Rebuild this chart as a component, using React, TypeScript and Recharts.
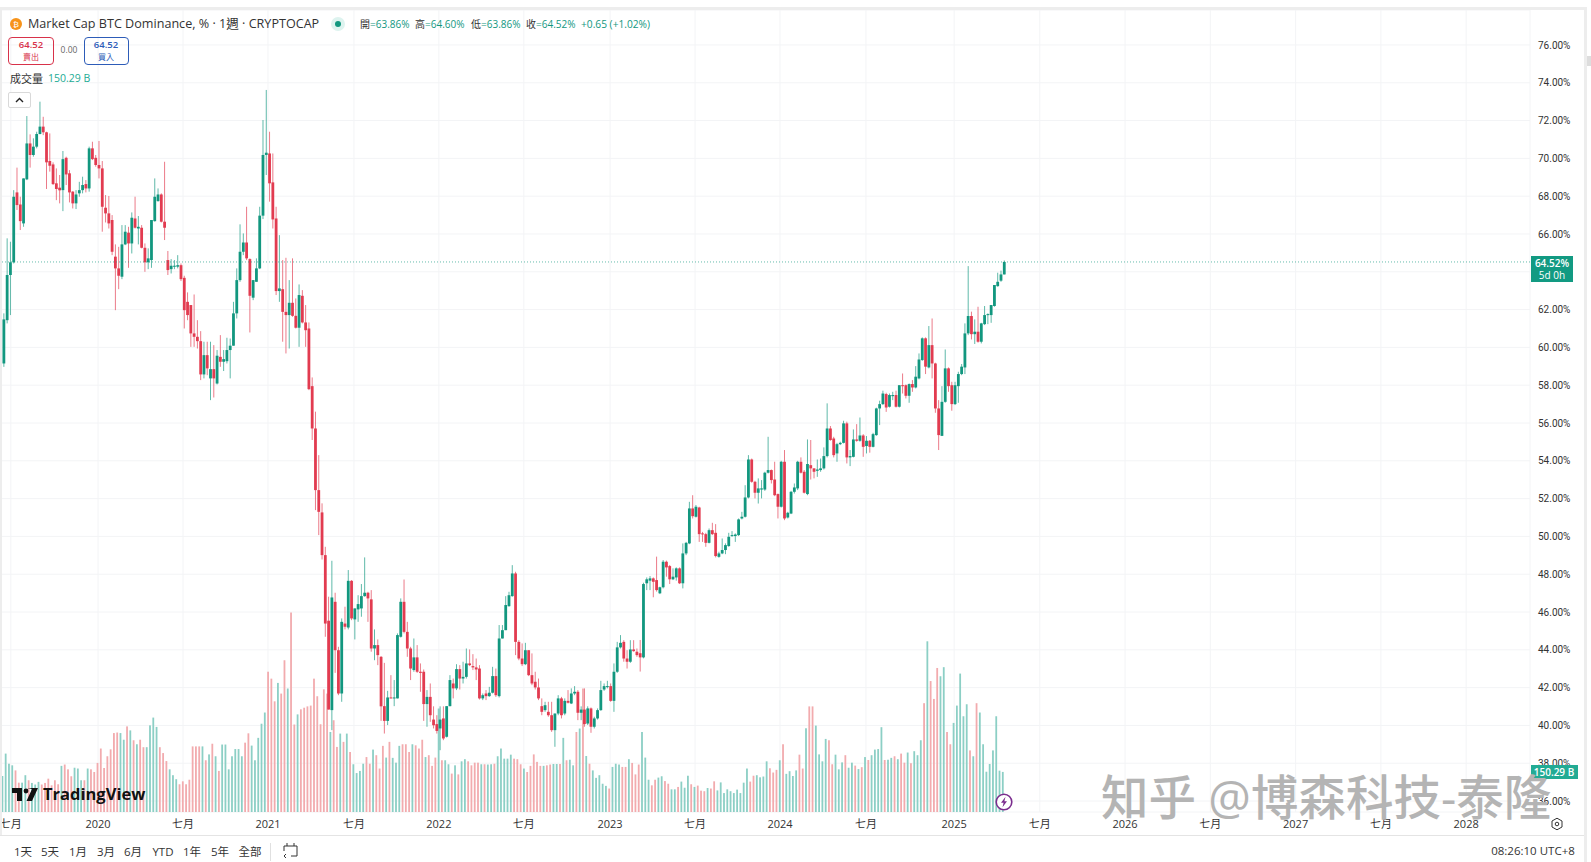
import { ComposedChart, Bar, XAxis, YAxis, CartesianGrid, ReferenceLine } from 'recharts'

const UP = '#12977F'
const DOWN = '#E23B50'
const FONT = '"Open Sans", "Noto Sans CJK TC", sans-serif'

// weekly candles, oldest first
const opens = [
  59.15,61.44,63.83,64.50,68.20,67.56,66.56,68.89,70.79,70.18,
  70.62,71.29,71.68,71.38,69.86,69.68,68.68,68.45,68.32,70.03,
  69.21,68.24,67.62,68.15,68.32,68.64,68.41,70.53,70.03,69.65,
  69.47,67.39,67.09,66.74,64.80,64.18,63.74,65.45,66.07,65.50,
  66.82,66.29,66.33,65.27,64.50,64.62,66.68,67.74,68.09,66.65,
  64.62,64.14,64.27,64.27,64.35,63.68,62.41,62.24,60.74,60.56,
  60.33,58.57,59.59,58.36,58.85,58.09,59.50,59.24,59.27,59.86,
  60.09,61.80,63.56,65.06,65.55,64.67,62.63,63.47,64.18,66.97,
  70.18,70.26,68.73,66.82,62.98,63.08,61.88,61.71,62.36,61.67,
  61.04,62.73,61.32,61.00,57.95,55.71,52.45,51.27,49.01,45.54,
  40.81,46.54,43.98,41.69,45.39,45.18,47.65,45.61,46.14,46.19,
  46.84,47.02,46.67,44.07,44.25,43.63,41.02,40.24,41.48,41.43,
  41.43,44.69,46.54,44.95,44.07,42.93,43.60,42.84,42.84,41.13,
  41.51,40.31,40.07,39.84,40.37,39.40,41.02,42.22,41.96,42.98,
  42.48,42.57,43.28,43.14,43.07,43.01,41.43,41.69,41.55,41.73,
  42.61,41.55,44.60,45.04,46.31,46.84,48.04,44.42,43.54,43.24,
  43.98,42.66,42.31,42.01,41.02,40.81,40.72,40.54,39.75,40.63,
  41.43,40.63,41.30,41.16,41.69,41.78,40.67,40.84,40.10,40.90,
  39.93,40.37,40.81,41.90,42.04,42.08,41.30,42.84,44.13,44.42,
  43.54,43.37,44.02,43.90,43.82,43.60,47.52,47.66,47.78,47.69,
  46.99,47.31,48.66,48.43,47.73,47.83,48.31,47.52,49.10,49.63,
  51.48,51.04,51.53,50.16,50.12,49.66,50.33,50.19,48.92,49.10,
  49.28,49.49,50.02,50.02,50.07,50.95,51.04,52.06,54.07,52.89,
  52.31,52.48,52.48,53.37,53.51,53.01,52.24,51.57,53.95,51.00,
  51.21,52.36,52.54,53.95,53.42,52.24,53.77,53.60,53.47,53.51,
  53.60,54.25,55.71,55.18,54.39,54.88,54.95,55.98,54.18,54.21,
  55.13,55.06,55.34,54.78,55.06,54.74,55.36,56.77,57.00,57.53,
  56.86,57.42,57.48,56.86,58.00,58.00,57.44,58.06,57.88,58.36,
  59.33,60.48,58.94,60.12,59.15,56.77,55.32,57.12,58.89,58.00,
  57.00,57.95,58.59,58.94,60.74,61.66,60.70,60.83,60.30,61.23,
  61.71,61.71,62.19,63.24,63.53,63.86,
]
const closes = [
  61.48,63.83,64.50,67.97,67.53,66.68,68.94,70.79,70.18,70.62,
  71.29,71.68,71.38,69.79,69.61,68.64,68.38,68.31,69.96,69.15,
  68.20,67.62,68.09,68.32,68.59,68.41,70.53,69.96,69.65,69.47,
  67.44,67.09,66.56,65.06,64.18,63.79,65.45,66.12,65.50,66.86,
  66.33,66.38,65.27,64.50,64.71,66.74,67.97,68.09,66.65,66.33,
  64.09,64.32,64.32,64.35,63.61,61.97,61.71,60.74,60.56,60.33,
  58.57,59.59,58.89,58.85,58.36,59.56,59.24,59.38,59.86,60.09,
  61.80,63.56,65.06,65.55,64.71,62.73,63.56,64.18,66.97,70.18,
  70.30,68.68,66.77,62.98,63.12,61.88,61.71,62.36,61.67,61.04,
  62.77,61.32,60.91,57.79,55.71,52.45,51.30,49.01,45.39,40.84,
  46.77,43.98,41.69,45.48,45.22,47.65,45.66,46.19,46.42,46.84,
  47.02,46.72,44.07,44.25,43.72,41.01,40.24,41.48,41.43,41.48,
  44.78,46.54,44.95,44.07,43.01,43.60,42.84,42.78,41.13,41.51,
  40.54,40.01,39.71,40.31,39.31,41.02,42.40,41.96,42.98,42.48,
  42.57,43.28,43.19,43.07,42.96,41.43,41.60,41.55,41.73,42.61,
  41.60,44.60,45.04,46.37,46.89,48.04,44.42,43.54,43.24,43.98,
  42.66,42.22,42.01,41.43,40.72,41.07,40.54,39.75,40.63,41.43,
  40.54,41.30,41.20,41.69,41.78,40.67,40.84,40.07,40.90,39.93,
  40.37,40.81,41.87,42.08,42.08,41.30,42.84,44.13,44.37,43.54,
  43.37,44.02,43.93,43.72,43.60,47.48,47.73,47.78,47.60,47.16,
  47.31,48.66,48.36,47.73,47.87,48.31,47.52,49.10,49.66,51.48,
  51.07,51.57,50.12,50.12,49.66,50.33,50.12,48.96,49.10,49.28,
  49.54,49.98,50.07,50.10,50.90,51.04,52.06,54.07,52.89,52.31,
  52.54,52.54,53.37,53.51,52.98,52.18,51.57,53.95,50.95,51.25,
  52.36,52.59,53.95,53.37,52.31,53.83,53.60,53.42,53.54,53.60,
  54.25,55.71,55.10,54.30,54.88,54.95,55.98,54.18,54.25,55.13,
  55.06,55.34,54.74,55.06,54.74,55.41,56.77,57.00,57.56,56.82,
  57.48,57.48,56.86,58.00,57.95,57.44,58.06,57.88,58.45,59.36,
  60.48,58.98,60.12,59.15,56.77,55.36,57.12,58.89,57.95,57.00,
  58.00,58.59,58.98,60.74,61.66,60.70,60.83,60.30,61.27,61.71,
  61.76,62.24,63.30,63.47,63.86,64.52,
]
const highs = [
  61.80,65.77,65.59,68.32,69.51,67.97,68.94,72.24,71.27,71.06,
  71.41,73.00,72.20,71.41,71.32,69.79,69.47,69.12,70.39,70.09,
  69.38,68.27,68.32,68.76,69.03,68.85,70.62,70.88,70.18,70.92,
  69.86,68.06,68.01,67.00,65.45,65.32,66.47,66.47,66.38,67.14,
  67.97,66.95,66.47,65.50,65.24,66.74,68.94,68.41,68.15,69.82,
  65.10,64.67,64.62,64.88,64.44,63.79,62.91,62.24,62.80,61.44,
  60.86,60.30,60.30,60.30,60.12,59.86,60.65,59.86,60.51,60.47,
  62.41,64.18,66.51,66.03,67.44,64.71,63.56,64.71,67.44,72.03,
  73.62,71.41,70.26,67.44,65.94,64.62,64.74,63.56,64.71,62.59,
  63.33,63.03,62.24,61.32,58.41,56.60,54.30,51.75,49.45,46.81,
  48.71,47.02,44.16,45.66,46.28,48.22,47.69,46.19,46.89,47.48,
  48.89,47.07,47.16,45.08,44.55,43.67,43.31,41.83,42.66,42.40,
  44.87,46.72,47.72,45.48,44.16,44.60,44.25,43.28,42.96,41.87,
  42.22,41.01,40.54,41.01,41.01,41.02,42.66,42.48,43.24,43.19,
  43.37,44.07,44.02,43.77,43.54,43.19,41.69,41.87,42.04,43.10,
  43.01,45.31,45.31,46.84,47.07,48.48,48.13,44.51,44.34,44.37,
  43.98,43.81,42.84,42.48,41.43,41.25,41.25,41.25,40.63,41.60,
  41.51,41.43,41.87,41.96,42.08,41.87,41.01,41.96,41.01,40.95,
  40.46,40.90,42.36,42.22,42.36,42.22,43.28,44.42,44.78,44.51,
  43.98,44.51,44.51,44.07,44.52,47.55,47.83,47.90,47.83,48.93,
  47.34,48.75,48.72,48.49,48.31,48.36,48.36,49.63,49.71,51.83,
  52.18,51.66,51.57,50.24,50.19,50.42,50.72,50.65,49.19,49.89,
  49.63,50.19,50.28,50.16,50.95,51.30,52.71,54.30,54.12,52.94,
  53.07,52.98,53.42,55.27,53.54,53.95,52.27,54.00,54.57,51.30,
  52.41,52.80,54.00,54.18,53.51,55.13,55.10,53.60,54.07,54.12,
  54.71,57.04,55.84,55.27,54.95,55.01,56.12,56.07,54.57,55.66,
  55.94,56.29,55.41,55.31,55.10,55.48,56.81,57.18,57.71,57.60,
  57.56,57.65,57.71,58.00,58.62,58.04,58.09,58.27,59.01,59.68,
  60.53,60.53,61.13,61.53,59.19,57.21,57.95,59.89,58.94,58.18,
  58.18,58.71,59.12,61.27,64.30,61.89,61.48,62.15,61.30,62.19,
  61.80,62.24,63.30,63.95,64.06,64.60,
]
const lows = [
  58.97,61.27,61.71,64.44,67.27,66.21,66.38,68.85,69.51,70.09,
  70.53,71.27,71.23,68.38,69.30,68.59,67.79,67.62,67.21,68.59,
  67.67,67.35,67.32,67.97,68.15,68.20,68.24,69.91,69.56,68.94,
  66.12,66.61,66.29,64.88,61.97,63.08,63.61,65.41,64.21,64.97,
  66.29,65.45,65.24,64.00,64.14,64.21,66.65,67.71,66.61,65.68,
  63.83,63.91,64.14,64.18,63.51,61.00,61.44,60.03,60.03,59.94,
  58.27,58.36,58.53,57.21,57.35,58.04,58.97,58.75,59.15,58.36,
  60.09,61.53,63.47,64.88,64.62,60.79,62.50,63.47,64.14,66.79,
  69.12,67.71,66.29,62.77,62.41,60.30,59.68,59.94,61.62,61.00,
  60.03,61.27,60.03,57.74,55.10,51.39,50.07,48.78,44.69,40.84,
  39.75,42.78,41.60,41.25,45.08,45.08,45.57,44.55,45.48,45.75,
  46.81,45.48,43.90,43.45,43.19,40.24,39.57,40.02,41.43,41.02,
  41.43,44.65,44.87,43.63,42.40,42.84,42.78,41.78,40.24,39.93,
  40.19,39.84,39.57,38.69,39.22,39.36,41.01,41.43,41.87,41.90,
  42.22,42.48,43.14,42.93,42.40,41.37,41.34,41.34,41.51,41.69,
  41.51,41.48,44.60,45.04,46.28,46.81,43.72,43.45,43.14,43.19,
  42.61,42.13,41.90,41.34,40.54,40.72,40.46,39.66,38.87,40.54,
  40.37,40.54,41.16,41.13,41.60,40.28,40.28,39.93,40.02,39.61,
  39.84,40.31,40.77,41.83,41.96,41.25,40.72,42.78,44.07,43.37,
  43.01,43.31,43.90,43.63,42.85,43.55,47.16,47.16,46.78,47.08,
  46.95,47.25,47.87,47.48,47.69,47.66,47.48,47.25,49.01,49.59,
  50.95,51.00,49.71,49.71,49.45,49.63,50.07,48.89,48.87,49.06,
  49.06,49.45,49.98,49.71,50.02,50.90,51.00,52.01,52.84,52.01,
  51.74,52.01,52.41,53.33,52.80,52.13,50.95,51.53,50.86,50.95,
  51.18,52.27,52.45,53.33,52.27,52.18,53.01,53.07,53.15,53.42,
  53.54,54.18,55.06,54.18,53.95,54.83,54.92,53.86,53.72,54.18,
  55.01,55.01,54.21,54.39,54.43,54.71,55.32,55.89,56.95,56.59,
  56.82,57.21,56.82,56.82,57.56,57.30,57.07,57.65,57.83,58.31,
  59.29,58.59,58.89,58.36,56.54,54.57,55.31,57.07,57.65,56.65,
  56.95,57.07,58.53,58.59,60.65,60.42,60.18,60.25,60.21,61.18,
  61.23,61.30,62.15,63.21,63.47,63.86,
]
// billions
const volumes = [
  135,219,181,175,156,110,110,138,119,109,
  103,113,103,109,125,100,119,104,173,178,
  160,134,166,163,119,119,163,160,150,184,
  238,165,209,235,296,298,296,271,321,306,
  269,254,271,243,243,325,354,319,243,221,
  191,160,138,123,104,115,104,121,246,246,
  246,246,194,216,256,209,154,253,253,160,
  209,236,236,209,260,295,249,194,278,331,
  373,526,500,415,484,444,569,463,748,328,
  366,385,391,396,399,500,434,329,460,444,
  300,344,244,294,263,294,225,179,146,154,
  181,206,181,234,213,163,248,204,263,203,
  185,248,254,254,225,254,250,238,271,206,
  213,173,204,388,194,194,179,144,175,141,
  190,198,190,175,185,185,179,179,178,179,
  181,209,238,200,200,215,200,198,179,163,
  150,173,216,188,173,173,175,178,180,180,
  180,278,194,196,175,300,313,463,210,181,
  156,128,138,106,98,88,169,181,178,169,
  169,198,184,141,178,300,204,121,100,121,
  129,134,116,106,85,85,94,114,91,136,
  104,94,99,80,78,90,88,115,81,111,
  71,85,78,71,84,71,110,163,114,136,
  138,130,133,190,164,148,158,194,254,143,
  153,135,156,215,163,314,396,396,324,216,
  190,274,269,179,215,160,186,213,166,185,
  174,161,168,206,195,213,234,236,318,195,
  196,203,209,198,219,185,223,183,228,213,
  269,408,640,491,424,540,509,543,300,254,
  334,399,519,359,404,231,209,408,373,254,
  151,180,231,359,155,150.29,
]

const priceTicks = [36,38,40,42,44,46,48,50,52,54,56,58,60,62,64,66,68,70,72,74,76]
// week positions of the time axis labels, the axis runs on past the last candle
const timeTicks = [2.3,28.9,54.8,80.7,106.9,132.8,158.7,185,210.9,236.8,263,289.9,316,342,368,394,420,446]
const timeLabels = ['七月','2020','七月','2021','七月','2022','七月','2023','七月','2024','七月','2025','七月','2026','七月','2027','七月','2028']
const rangeButtons = ['1天','5天','1月','3月','6月','YTD','1年','5年','全部']
const rangeCenters = [23,50,78,106,133,163,192,220,250]

const rows = closes.map((close, i) => ({
  week: i,
  open: opens[i],
  close,
  high: highs[i],
  low: lows[i],
  volume: volumes[i],
}))

function VolumeBar({ x, y, width, height, payload }: any) {
  const up = payload.close >= payload.open
  const cx = x + width / 2
  return <rect x={cx - 0.9} y={y} width={1.8} height={height} fill={up ? '#8CCFC5' : '#F2ABAE'} />
}

function Candle({ x, y, width, height, payload }: any) {
  const { open, close, high, low } = payload
  const perUnit = height / Math.max(high - low, 0.01)
  const cx = x + width / 2
  const color = close >= open ? UP : DOWN
  const top = y + (high - Math.max(open, close)) * perUnit
  const bodyH = Math.max(Math.abs(open - close) * perUnit, 1)
  return (
    <g>
      <line x1={cx} x2={cx} y1={y} y2={y + height} stroke={color} strokeWidth={0.85} strokeOpacity={0.8} />
      <rect x={cx - 1.4} y={top} width={2.8} height={bodyH} fill={color} />
    </g>
  )
}

function Txt({ x, y, color = '#333', size = 11, weight = 400, align = 'left', children }: any) {
  const tr = align === 'center' ? 'translate(-50%,-50%)' : 'translateY(-50%)'
  return (
    <div style={{ position: 'absolute', left: x, top: y, transform: tr, color, fontSize: size, fontWeight: weight, fontFamily: FONT, whiteSpace: 'nowrap', lineHeight: 1 }}>
      {children}
    </div>
  )
}

function Box({ x, y, w, h, style }: any) {
  return <div style={{ position: 'absolute', left: x, top: y, width: w, height: h, boxSizing: 'border-box', ...style }} />
}

export default function App() {
  return (
    <div style={{ position: 'absolute', left: 0, top: 0, width: 1591, height: 862, background: '#fff', overflow: 'hidden' }}>
      <ComposedChart width={1591} height={862} data={rows} margin={{ top: 10, right: 0, bottom: 27, left: 0 }}>
        <CartesianGrid stroke="#F3F4F6" yAxisId="price" />
        <XAxis type="number" dataKey="week" domain={[-1.006, 465.46]} ticks={timeTicks} interval={0} height={23}
          tickFormatter={(v: number) => timeLabels[timeTicks.indexOf(v)]} tickLine={false} axisLine={false} tickMargin={2}
          tick={{ fontSize: 11, fill: '#333', fontFamily: FONT }} />
        <YAxis yAxisId="price" orientation="right" width={61} domain={[35.42, 77.85]} ticks={priceTicks} interval={0}
          tickFormatter={(v: number) => `${v.toFixed(2)}%`} tickLine={false} axisLine={false} tickMargin={2}
          tick={{ fontSize: 10, fill: '#333', fontFamily: 'Roboto, sans-serif' }} />
        <YAxis yAxisId="vol" hide domain={[0, 3007]} />
        <Bar yAxisId="vol" dataKey="volume" barSize={2} shape={<VolumeBar />} isAnimationActive={false} />
        <Bar yAxisId="price" dataKey={(d: any) => [d.low, d.high]} barSize={2} shape={<Candle />} isAnimationActive={false} />
        <ReferenceLine yAxisId="price" y={64.52} stroke={UP} strokeOpacity={0.65} strokeDasharray="1 2" />
      </ComposedChart>

      {/* frame */}
      <Box x={0} y={7} w={1587} h={3} style={{ background: '#EDEDED' }} />
      <Box x={0} y={7} w={2} h={829} style={{ background: '#EDEDED' }} />
      <Box x={1584} y={7} w={3} h={855} style={{ background: '#EDEDED' }} />
      <Box x={0} y={835} w={1584} h={1} style={{ background: '#E4E4E4' }} />
      <Box x={1587} y={56} w={4} h={10} style={{ background: '#DDD' }} />

      {/* header */}
      <div style={{ position: 'absolute', left: 10, top: 18, width: 12, height: 12, borderRadius: 6, background: '#F7931A', color: '#fff', fontSize: 8, lineHeight: '12px', textAlign: 'center', fontFamily: FONT }}>₿</div>
      <Txt x={28} y={24} size={12.6}>Market Cap BTC Dominance, % · 1週 · CRYPTOCAP</Txt>
      <Box x={331} y={17} w={14} h={14} style={{ background: '#DDF3EF', borderRadius: 7 }} />
      <Box x={335} y={21} w={6} h={6} style={{ background: UP, borderRadius: 3 }} />
      <Txt x={360} y={24} size={10}>開<span style={{ color: UP }}>=63.86%</span></Txt>
      <Txt x={415} y={24} size={10}>高<span style={{ color: UP }}>=64.60%</span></Txt>
      <Txt x={471} y={24} size={10}>低<span style={{ color: UP }}>=63.86%</span></Txt>
      <Txt x={526} y={24} size={10}>收<span style={{ color: UP }}>=64.52%</span></Txt>
      <Txt x={581} y={24} size={10.2} color={UP}>+0.65 (+1.02%)</Txt>

      <Box x={8} y={37} w={46} h={28} style={{ border: '1px solid #D8324A', borderRadius: 4 }} />
      <Txt x={31} y={45} size={9.5} color="#D8324A" weight={600} align="center">64.52</Txt>
      <Txt x={31} y={57} size={8} color="#D8324A" align="center">賣出</Txt>
      <Txt x={69} y={50} size={8.5} color="#666" align="center">0.00</Txt>
      <Box x={84} y={37} w={45} h={28} style={{ border: '1px solid #2D5CB8', borderRadius: 4 }} />
      <Txt x={106} y={45} size={9.5} color="#2D5CB8" weight={600} align="center">64.52</Txt>
      <Txt x={106} y={57} size={8} color="#2D5CB8" align="center">買入</Txt>

      <Txt x={10} y={78} size={11}>成交量</Txt>
      <Txt x={48} y={78} size={10.5} color="#22AB94">150.29 B</Txt>
      <Box x={8} y={92} w={23} h={16} style={{ background: '#fff', border: '1px solid #D9D9D9', borderRadius: 2 }} />
      <svg style={{ position: 'absolute', left: 15, top: 97 }} width={9} height={6} viewBox="0 0 9 6">
        <path d="M1 5 4.5 1.5 8 5" fill="none" stroke="#222" strokeWidth={1.4} />
      </svg>

      {/* right axis tags */}
      <Box x={1531} y={256} w={42} h={26} style={{ background: '#129A82' }} />
      <Txt x={1552} y={263} size={10} color="#fff" weight={600} align="center">64.52%</Txt>
      <Txt x={1552} y={275} size={10} color="#fff" align="center">5d 0h</Txt>
      <Box x={1531} y={765} w={47} h={14} style={{ background: '#22AB94' }} />
      <Txt x={1554} y={772} size={10} color="#fff" weight={600} align="center">150.29 B</Txt>

      {/* watermark */}
      <Txt x={1101} y={797} size={47.5} color="#B4B4B4" weight={500}>知乎 @博森科技-泰隆</Txt>

      {/* logo */}
      <svg style={{ position: 'absolute', left: 12, top: 787 }} width={26} height={15} viewBox="0 0 26 15">
        <path d="M0 1H10V14H5V6H0Z M15.5 1 H26 L20 14 H14.5 L20 2Z" fill="#111" />
        <circle cx={14} cy={4} r={2.4} fill="#111" />
      </svg>
      <Txt x={43} y={794} size={16.5} weight={700} color="#111">TradingView</Txt>

      {/* lightning */}
      <svg style={{ position: 'absolute', left: 995, top: 793 }} width={18} height={18} viewBox="0 0 18 18">
        <circle cx={9} cy={9} r={7.8} fill="#fff" stroke="#7B2D8E" strokeWidth={1.6} />
        <path d="M10.5 3.8 6 9.8H8.6L7.5 14.2 12 8.2H9.4Z" fill="#7B2D8E" />
      </svg>

      {/* gear */}
      <svg style={{ position: 'absolute', left: 1550, top: 817 }} width={14} height={14} viewBox="0 0 14 14">
        <path d="M7 1.2 12 4v6l-5 2.8L2 10V4Z" fill="none" stroke="#333" />
        <circle cx={7} cy={7} r={1.8} fill="none" stroke="#333" />
      </svg>

      {/* footer */}
      {rangeButtons.map((b, i) => (
        <Txt key={b} x={rangeCenters[i]} y={852} size={11.5} align="center">{b}</Txt>
      ))}
      <Box x={270} y={843} w={1} h={18} style={{ background: '#E0E0E0' }} />
      <svg style={{ position: 'absolute', left: 283, top: 842 }} width={15} height={18} viewBox="0 0 15 18">
        <path d="M1 4H14 M4 1V4 M11 1V4 M1 4V9 M14 4V14H8 M3 16l-2-2 2-2" fill="none" stroke="#333" />
      </svg>
      <Txt x={1533} y={851} size={11.5} align="center">08:26:10 UTC+8</Txt>
    </div>
  )
}
